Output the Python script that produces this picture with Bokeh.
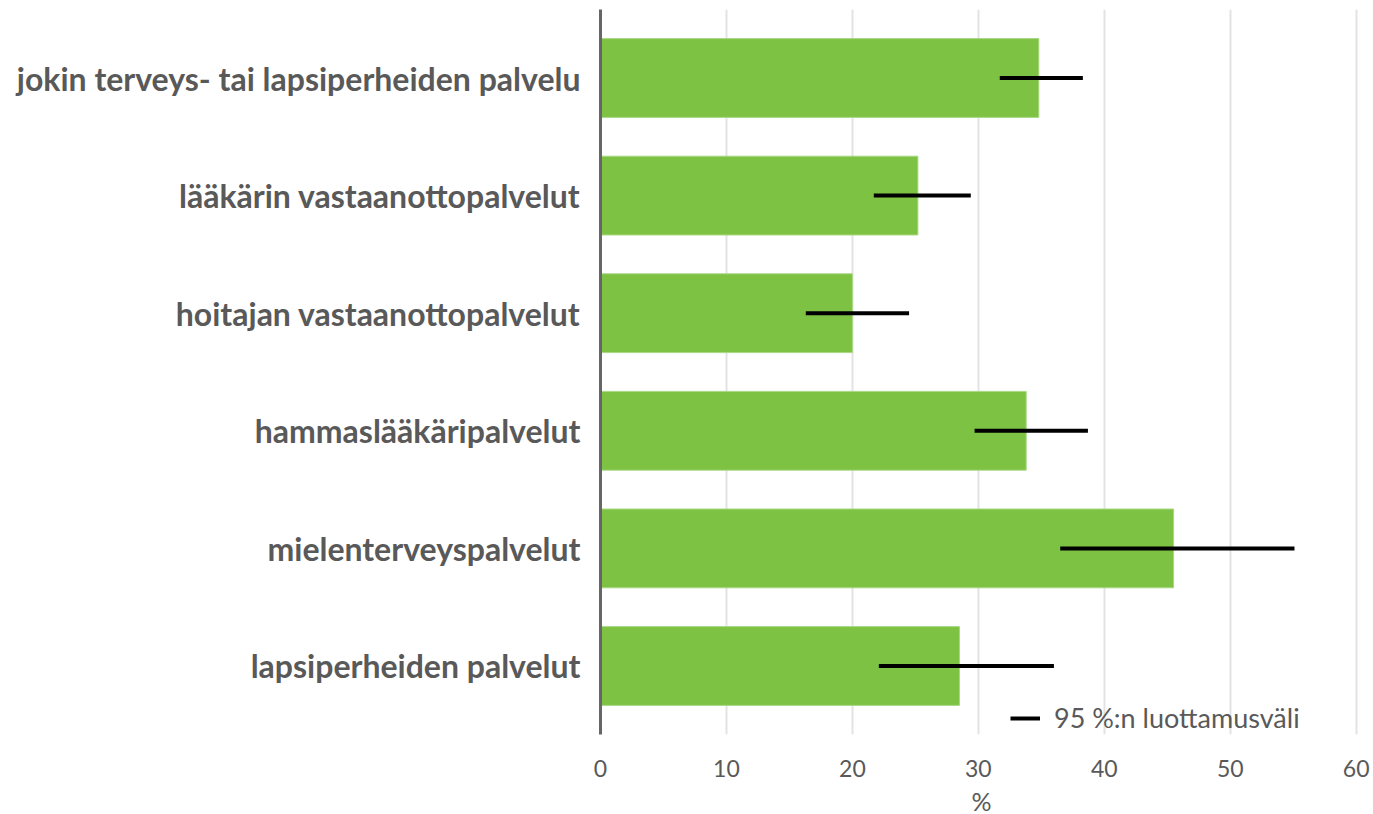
from bokeh.plotting import figure
from bokeh.models import FactorRange, Range1d, ColumnDataSource, Legend, LegendItem
from bokeh.embed import file_html
from bokeh.resources import INLINE

categories = [
    "jokin terveys- tai lapsiperheiden palvelu",
    "lääkärin vastaanottopalvelut",
    "hoitajan vastaanottopalvelut",
    "hammaslääkäripalvelut",
    "mielenterveyspalvelut",
    "lapsiperheiden palvelut",
]
values = [34.8, 25.2, 20.0, 33.8, 45.5, 28.5]
ci_low = [31.7, 21.7, 16.3, 29.7, 36.5, 22.1]
ci_high = [38.3, 29.4, 24.5, 38.7, 55.1, 36.0]
x_ticks = [0, 10, 20, 30, 40, 50, 60]
legend_text = "95 %:n luottamusväli"
x_label = "%"

FONT = "Lato"
GREY = "#595959"

src = ColumnDataSource(dict(cat=categories, val=values, lo=ci_low, hi=ci_high))

p = figure(
    y_range=FactorRange(factors=list(reversed(categories)), range_padding=0.0275),
    x_range=Range1d(0, 60.5),
    frame_width=762, frame_height=725,
    min_border_left=600, min_border_right=10, min_border_top=9, min_border_bottom=0,
    output_backend="svg", toolbar_location=None,
)
p.outline_line_color = None

p.hbar(y="cat", right="val", left=0, height=0.67, source=src,
       fill_color="#7DC243", line_color="#A8D884", line_width=1)
seg = p.segment(x0="lo", x1="hi", y0="cat", y1="cat", source=src,
                line_color="black", line_width=4, line_cap="butt")

legend = Legend(items=[LegendItem(label=legend_text, renderers=[seg])],
                location=(410, 0), orientation="vertical")
legend.background_fill_alpha = 0
legend.border_line_color = None
legend.label_text_font = FONT
legend.label_text_font_size = "27px"
legend.label_text_color = GREY
legend.glyph_width = 30
legend.glyph_height = 16
legend.label_height = 16
legend.label_standoff = 14
legend.padding = 0
legend.margin = 0
p.add_layout(legend)

# axes
p.xaxis.ticker = x_ticks
p.xaxis.axis_line_color = None
p.xaxis.major_tick_line_color = None
p.xaxis.minor_tick_line_color = None
p.xaxis.major_label_text_font = FONT
p.xaxis.major_label_text_font_size = "23px"
p.xaxis.major_label_text_color = GREY
p.xaxis.major_label_standoff = 19
p.xaxis.axis_label = x_label
p.xaxis.axis_label_text_font = FONT
p.xaxis.axis_label_text_font_size = "25px"
p.xaxis.axis_label_text_font_style = "normal"
p.xaxis.axis_label_text_color = GREY
p.xaxis.axis_label_standoff = 6

p.yaxis.axis_line_color = "#666666"
p.yaxis.axis_line_width = 3
p.yaxis.major_tick_line_color = None
p.yaxis.minor_tick_line_color = None
p.yaxis.major_label_text_font = FONT
p.yaxis.major_label_text_font_size = "32px"
p.yaxis.major_label_text_font_style = "bold"
p.yaxis.major_label_text_color = GREY
p.yaxis.major_label_standoff = 14

p.ygrid.grid_line_color = None
p.xgrid.ticker = x_ticks
p.xgrid.grid_line_color = "#E3E3E3"
p.xgrid.grid_line_width = 2

open("out.html", "w").write(file_html(p, INLINE))
